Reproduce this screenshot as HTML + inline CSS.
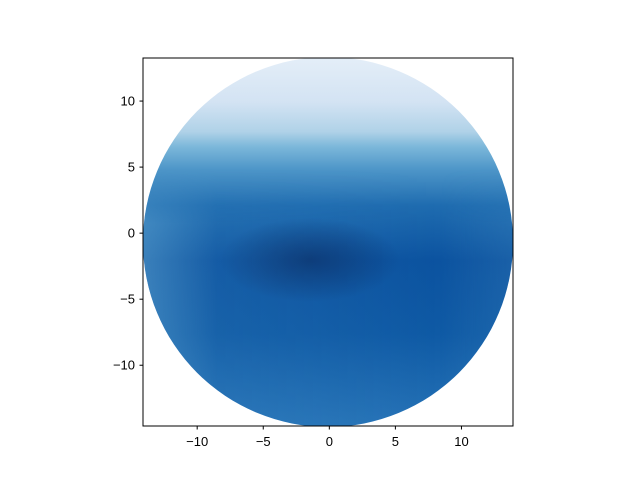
<!DOCTYPE html>
<html><head><meta charset="utf-8"><style>
html,body{margin:0;padding:0;background:#fff;}
svg{display:block;font-family:"Liberation Sans","DejaVu Sans",sans-serif;}
</style></head><body>
<svg width="640" height="480" viewBox="0 0 640 480">
<defs>
<linearGradient id="vg" x1="0" y1="58" x2="0" y2="426" gradientUnits="userSpaceOnUse">
<stop offset="0" stop-color="#e4eef8"/>
<stop offset="0.12" stop-color="#d3e3f3"/>
<stop offset="0.2" stop-color="#b0d2e8"/>
<stop offset="0.24" stop-color="#7db8da"/>
<stop offset="0.3" stop-color="#4f97c9"/>
<stop offset="0.4" stop-color="#1f6cb0"/>
<stop offset="0.55" stop-color="#0c53a0"/>
<stop offset="0.75" stop-color="#0f5aa5"/>
<stop offset="1" stop-color="#2673b7"/>
</linearGradient>
<radialGradient id="dark" cx="310" cy="260" r="60" gradientUnits="userSpaceOnUse" gradientTransform="translate(310 260) scale(1.5 0.7) translate(-310 -260)">
<stop offset="0" stop-color="#08306b" stop-opacity="0.8"/>
<stop offset="0.5" stop-color="#08306b" stop-opacity="0.4"/>
<stop offset="1" stop-color="#08306b" stop-opacity="0"/>
</radialGradient>
<linearGradient id="hg" x1="143" y1="0" x2="513" y2="0" gradientUnits="userSpaceOnUse">
<stop offset="0" stop-color="#6aaed6" stop-opacity="0.5"/>
<stop offset="0.2" stop-color="#6aaed6" stop-opacity="0.1"/>
<stop offset="0.8" stop-color="#6aaed6" stop-opacity="0"/>
<stop offset="1" stop-color="#6aaed6" stop-opacity="0.15"/>
</linearGradient>
<linearGradient id="fadeTop" x1="0" y1="58" x2="0" y2="426" gradientUnits="userSpaceOnUse">
<stop offset="0" stop-color="#fff" stop-opacity="0"/>
<stop offset="0.3" stop-color="#fff" stop-opacity="0"/>
<stop offset="0.45" stop-color="#fff" stop-opacity="1"/>
<stop offset="1" stop-color="#fff" stop-opacity="1"/>
</linearGradient>
<mask id="hm"><rect x="100" y="50" width="450" height="400" fill="url(#fadeTop)"/></mask>
<clipPath id="disk"><circle cx="328" cy="242" r="185"/></clipPath>
<clipPath id="ax"><rect x="143" y="58" width="370" height="368"/></clipPath>
</defs>
<g clip-path="url(#ax)">
<g clip-path="url(#disk)">
<rect x="100" y="50" width="450" height="400" fill="url(#vg)"/>
<rect x="100" y="50" width="450" height="400" fill="url(#dark)"/>
<rect x="100" y="50" width="450" height="400" fill="url(#hg)" mask="url(#hm)"/>
</g>
</g>
<rect x="143" y="58" width="370" height="368" fill="none" stroke="#000" stroke-width="1"/>
<g id="xt"></g>
<g id="yt"></g>
</svg>
<script>
const xTicks=[-10,-5,0,5,10];
const yTicks=[10,5,0,-5,-10];
const xMin=-14.1,xMax=13.9,yMin=-14.6,yMax=13.26;
const X=v=>143+(v-xMin)/(xMax-xMin)*370;
const Y=v=>58+(yMax-v)/(yMax-yMin)*368;
const NS="http://www.w3.org/2000/svg";
const xt=document.getElementById('xt'),yt=document.getElementById('yt');
xTicks.forEach(t=>{
 const l=document.createElementNS(NS,'line');
 l.setAttribute('x1',X(t));l.setAttribute('x2',X(t));l.setAttribute('y1',426);l.setAttribute('y2',429.5);l.setAttribute('stroke','#000');
 
 
 xt.appendChild(l);
 const s=document.createElementNS(NS,'text');
 s.setAttribute('x',X(t));s.setAttribute('y',446);s.setAttribute('text-anchor','middle');s.setAttribute('font-size','13');
 s.textContent=(t<0?'\u2212':'')+Math.abs(t);
 
 
 xt.appendChild(s);
});
yTicks.forEach(t=>{
 const l=document.createElementNS(NS,'line');
 l.setAttribute('x1',139.5);l.setAttribute('x2',143);l.setAttribute('y1',Y(t));l.setAttribute('y2',Y(t));l.setAttribute('stroke','#000');
 
 
 yt.appendChild(l);
 const s=document.createElementNS(NS,'text');
 s.setAttribute('x',135);s.setAttribute('y',Y(t)+4.5);s.setAttribute('text-anchor','end');s.setAttribute('font-size','13');
 s.textContent=(t<0?'\u2212':'')+Math.abs(t);
 
 
 yt.appendChild(s);
});
</script>
</body></html>
